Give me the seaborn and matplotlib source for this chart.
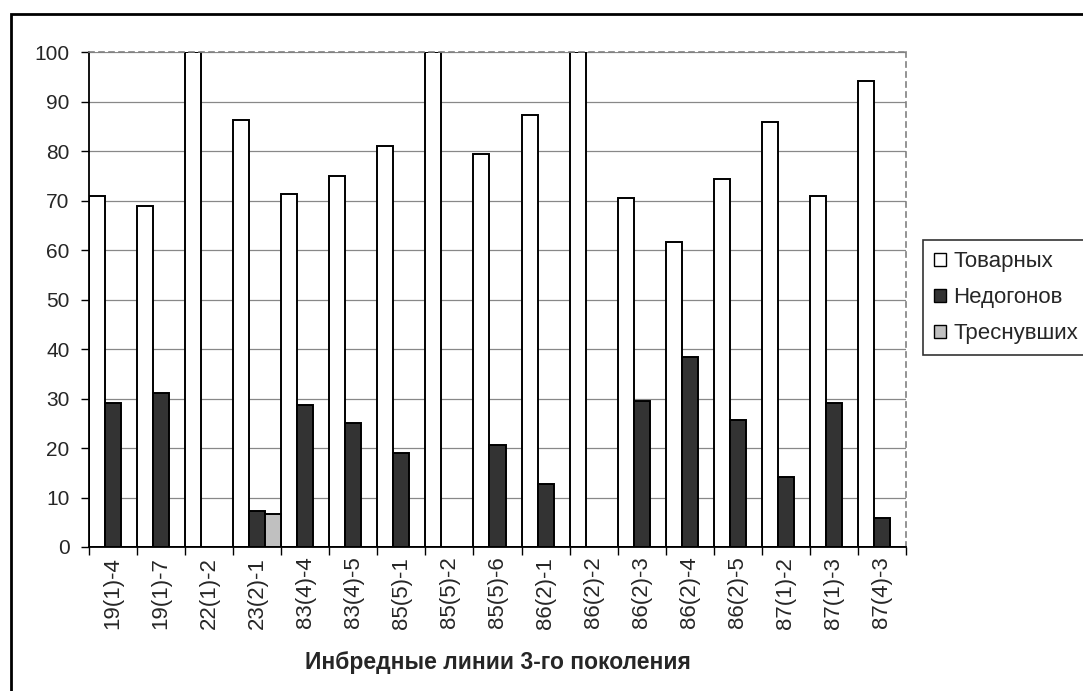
import pandas as pd
import matplotlib.pyplot as plt
from matplotlib.patches import Rectangle
import seaborn as sns

sns.set_theme(style="white")
plt.rcParams['font.family'] = ['Liberation Sans', 'DejaVu Sans']

lines = ['19(1)-4', '19(1)-7', '22(1)-2', '23(2)-1', '83(4)-4', '83(4)-5',
         '85(5)-1', '85(5)-2', '85(5)-6', '86(2)-1', '86(2)-2', '86(2)-3',
         '86(2)-4', '86(2)-5', '87(1)-2', '87(1)-3', '87(4)-3']
tovarnyh = [71.0, 68.9, 100, 86.2, 71.4, 75.0, 81.1, 100, 79.3, 87.3, 100,
            70.6, 61.6, 74.3, 85.9, 71.0, 94.2]
nedogonov = [29.0, 31.1, 0, 7.2, 28.6, 25.0, 18.9, 0, 20.7, 12.7, 0,
             29.4, 38.4, 25.7, 14.1, 29.0, 5.8]
tresnuvshih = [0, 0, 0, 6.6, 0, 0, 0, 0, 0, 0, 0, 0, 0, 0, 0, 0, 0]
series = ['Товарных', 'Недогонов', 'Треснувших']

df = pd.concat([
    pd.DataFrame({'line': lines, 'value': v, 'type': s})
    for s, v in zip(series, [tovarnyh, nedogonov, tresnuvshih])
])

fig = plt.figure(figsize=(10.83, 6.91), dpi=100)
ax = fig.add_axes([89 / 1083, 1 - 547 / 691, (906 - 89) / 1083, (547 - 52) / 691])

sns.barplot(data=df, x='line', y='value', hue='type', ax=ax,
            palette=['white', '#333333', '#c0c0c0'],
            edgecolor='black', linewidth=1.4, width=1.0, legend=False)

ax.set_xlim(-0.5, len(lines) - 0.5)
ax.set_ylim(0, 100)
ax.set_yticks(range(0, 101, 10))
ax.yaxis.grid(True, color='#888888', linewidth=0.9)
ax.set_axisbelow(True)

for side in ['top', 'right']:
    ax.spines[side].set_visible(True)
    ax.spines[side].set_color('#808080')
    ax.spines[side].set_linestyle((0, (3, 3)))
    ax.spines[side].set_linewidth(1.2)
for side in ['left', 'bottom']:
    ax.spines[side].set_color('black')
    ax.spines[side].set_linewidth(1.3)

ax.tick_params(axis='y', left=True, length=6, width=1, color='black',
               labelsize=15, pad=8)
ax.tick_params(axis='x', which='major', bottom=False, length=0, labelsize=16,
               labelrotation=90, pad=7)
ax.set_xticks([i - 0.5 for i in range(len(lines) + 1)], minor=True)
ax.tick_params(axis='x', which='minor', bottom=True, length=6, width=1,
               color='black')

ax.set_ylabel('')
ax.set_xlabel('Инбредные линии 3-го поколения', fontsize=16.5,
              fontweight='bold')
ax.xaxis.set_label_coords(0.5, -0.21)

handles = [Rectangle((0, 0), 1, 1, facecolor=c, edgecolor='black', linewidth=1)
           for c in ['white', '#333333', '#c0c0c0']]
leg = fig.legend(handles, series, loc='upper left',
                 bbox_to_anchor=(923 / 1083, 1 - 240 / 691),
                 fontsize=16, frameon=True, fancybox=False,
                 handlelength=0.55, handleheight=0.55, handletextpad=0.3,
                 labelspacing=0.68, borderpad=0.5, borderaxespad=0)
leg.get_frame().set_edgecolor('black')
leg.get_frame().set_linewidth(1.2)

# outer chart frame, cut by the image edges
fig.patches.append(Rectangle((10.5 / 1083, -0.05), 1.2, 1 - 13.5 / 691 + 0.05,
                             transform=fig.transFigure, fill=False,
                             edgecolor='black', linewidth=2, clip_on=False))

fig.savefig('out.png', dpi=100)
